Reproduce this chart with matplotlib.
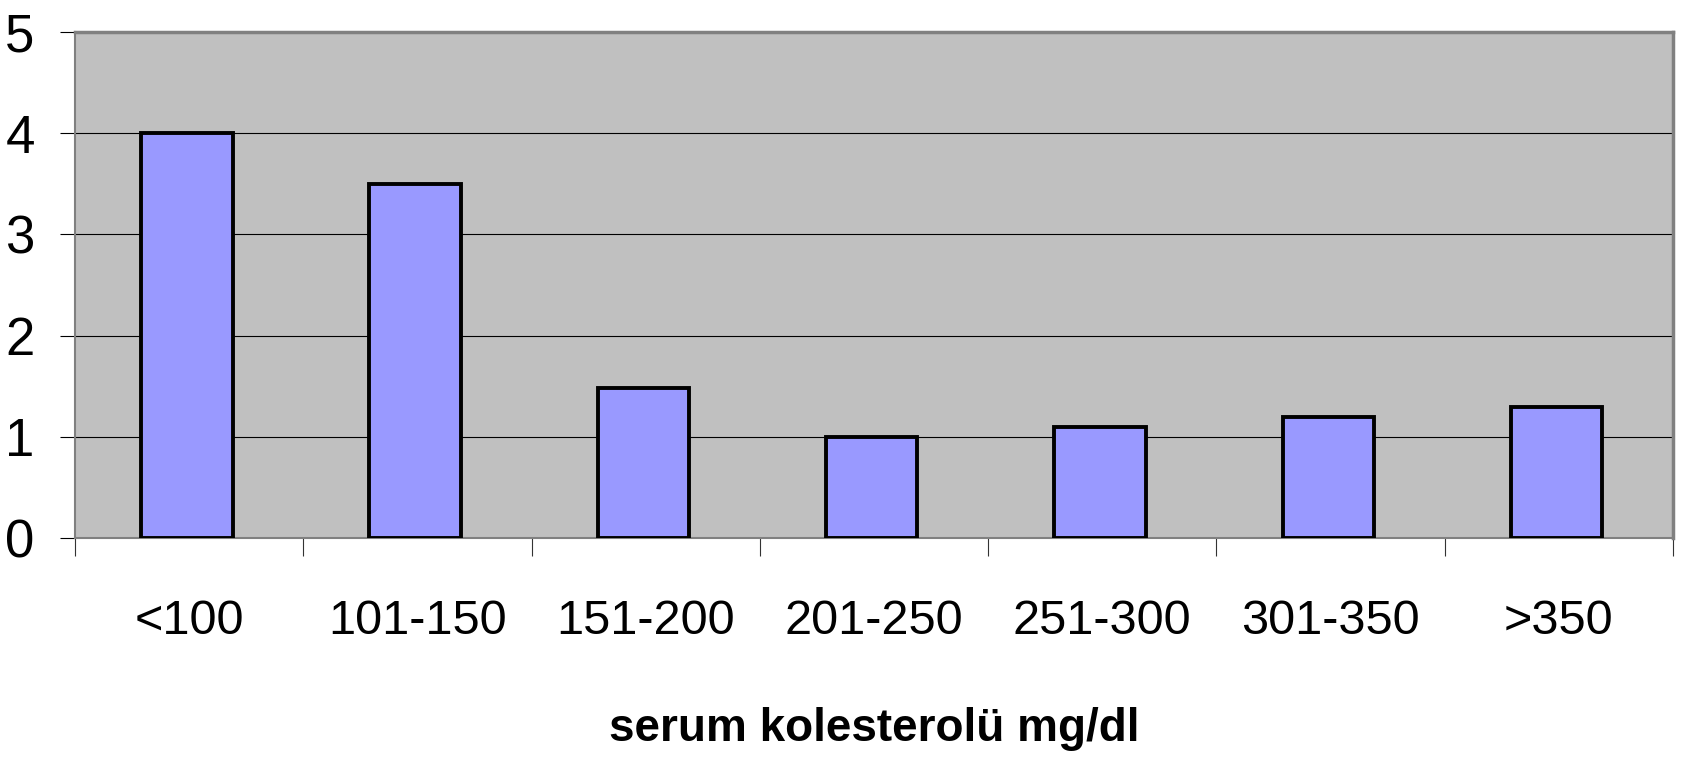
import matplotlib
matplotlib.use("Agg")
import matplotlib.pyplot as plt
import numpy as np

plt.rcParams['font.family'] = ['Liberation Sans', 'DejaVu Sans']

categories = ['<100', '101-150', '151-200', '201-250', '251-300', '301-350', '>350']
values = [4.0, 3.5, 1.48, 1.0, 1.1, 1.2, 1.29]
y_ticks = [0, 1, 2, 3, 4, 5]

fig = plt.figure(figsize=(16.84, 7.58), dpi=100)
ax = fig.add_axes([75 / 1684, 1 - 538 / 758, (1673 - 75) / 1684, (538 - 32) / 758])
ax.set_facecolor('#C0C0C0')

x = np.arange(len(categories))
ax.bar(x - 0.01, values, width=0.4, color='#9999FF', edgecolor='black', linewidth=2.8, zorder=3)

ax.set_xlim(-0.5, len(categories) - 0.5)
ax.set_ylim(0, 5)
ax.set_yticks(y_ticks)
ax.yaxis.grid(True, color='black', linewidth=0.8, zorder=1)
ax.set_axisbelow(True)

# category labels between boundary ticks
ax.set_xticks(np.arange(len(categories) + 1) - 0.5)
ax.set_xticklabels([])
ax.set_xticks(x, minor=True)
ax.set_xticklabels(categories, minor=True, fontsize=35)
ax.tick_params(axis='x', which='minor', length=0, pad=44)
ax.tick_params(axis='x', which='major', length=13, width=0.8, color='#333333')
ax.tick_params(axis='y', length=11, width=0.8, color='black', pad=18, labelsize=38)

for side in ['top', 'right']:
    ax.spines[side].set_color('#808080')
    ax.spines[side].set_linewidth(2.5)
for side in ['left', 'bottom']:
    ax.spines[side].set_color('#808080')
    ax.spines[side].set_linewidth(1.5)

fig.text(874 / 1684, 1 - 741 / 758, 'serum kolesterolü mg/dl', ha='center', va='baseline',
         fontsize=33, fontweight='bold')

plt.savefig('out.png', dpi=100)
plt.close()
